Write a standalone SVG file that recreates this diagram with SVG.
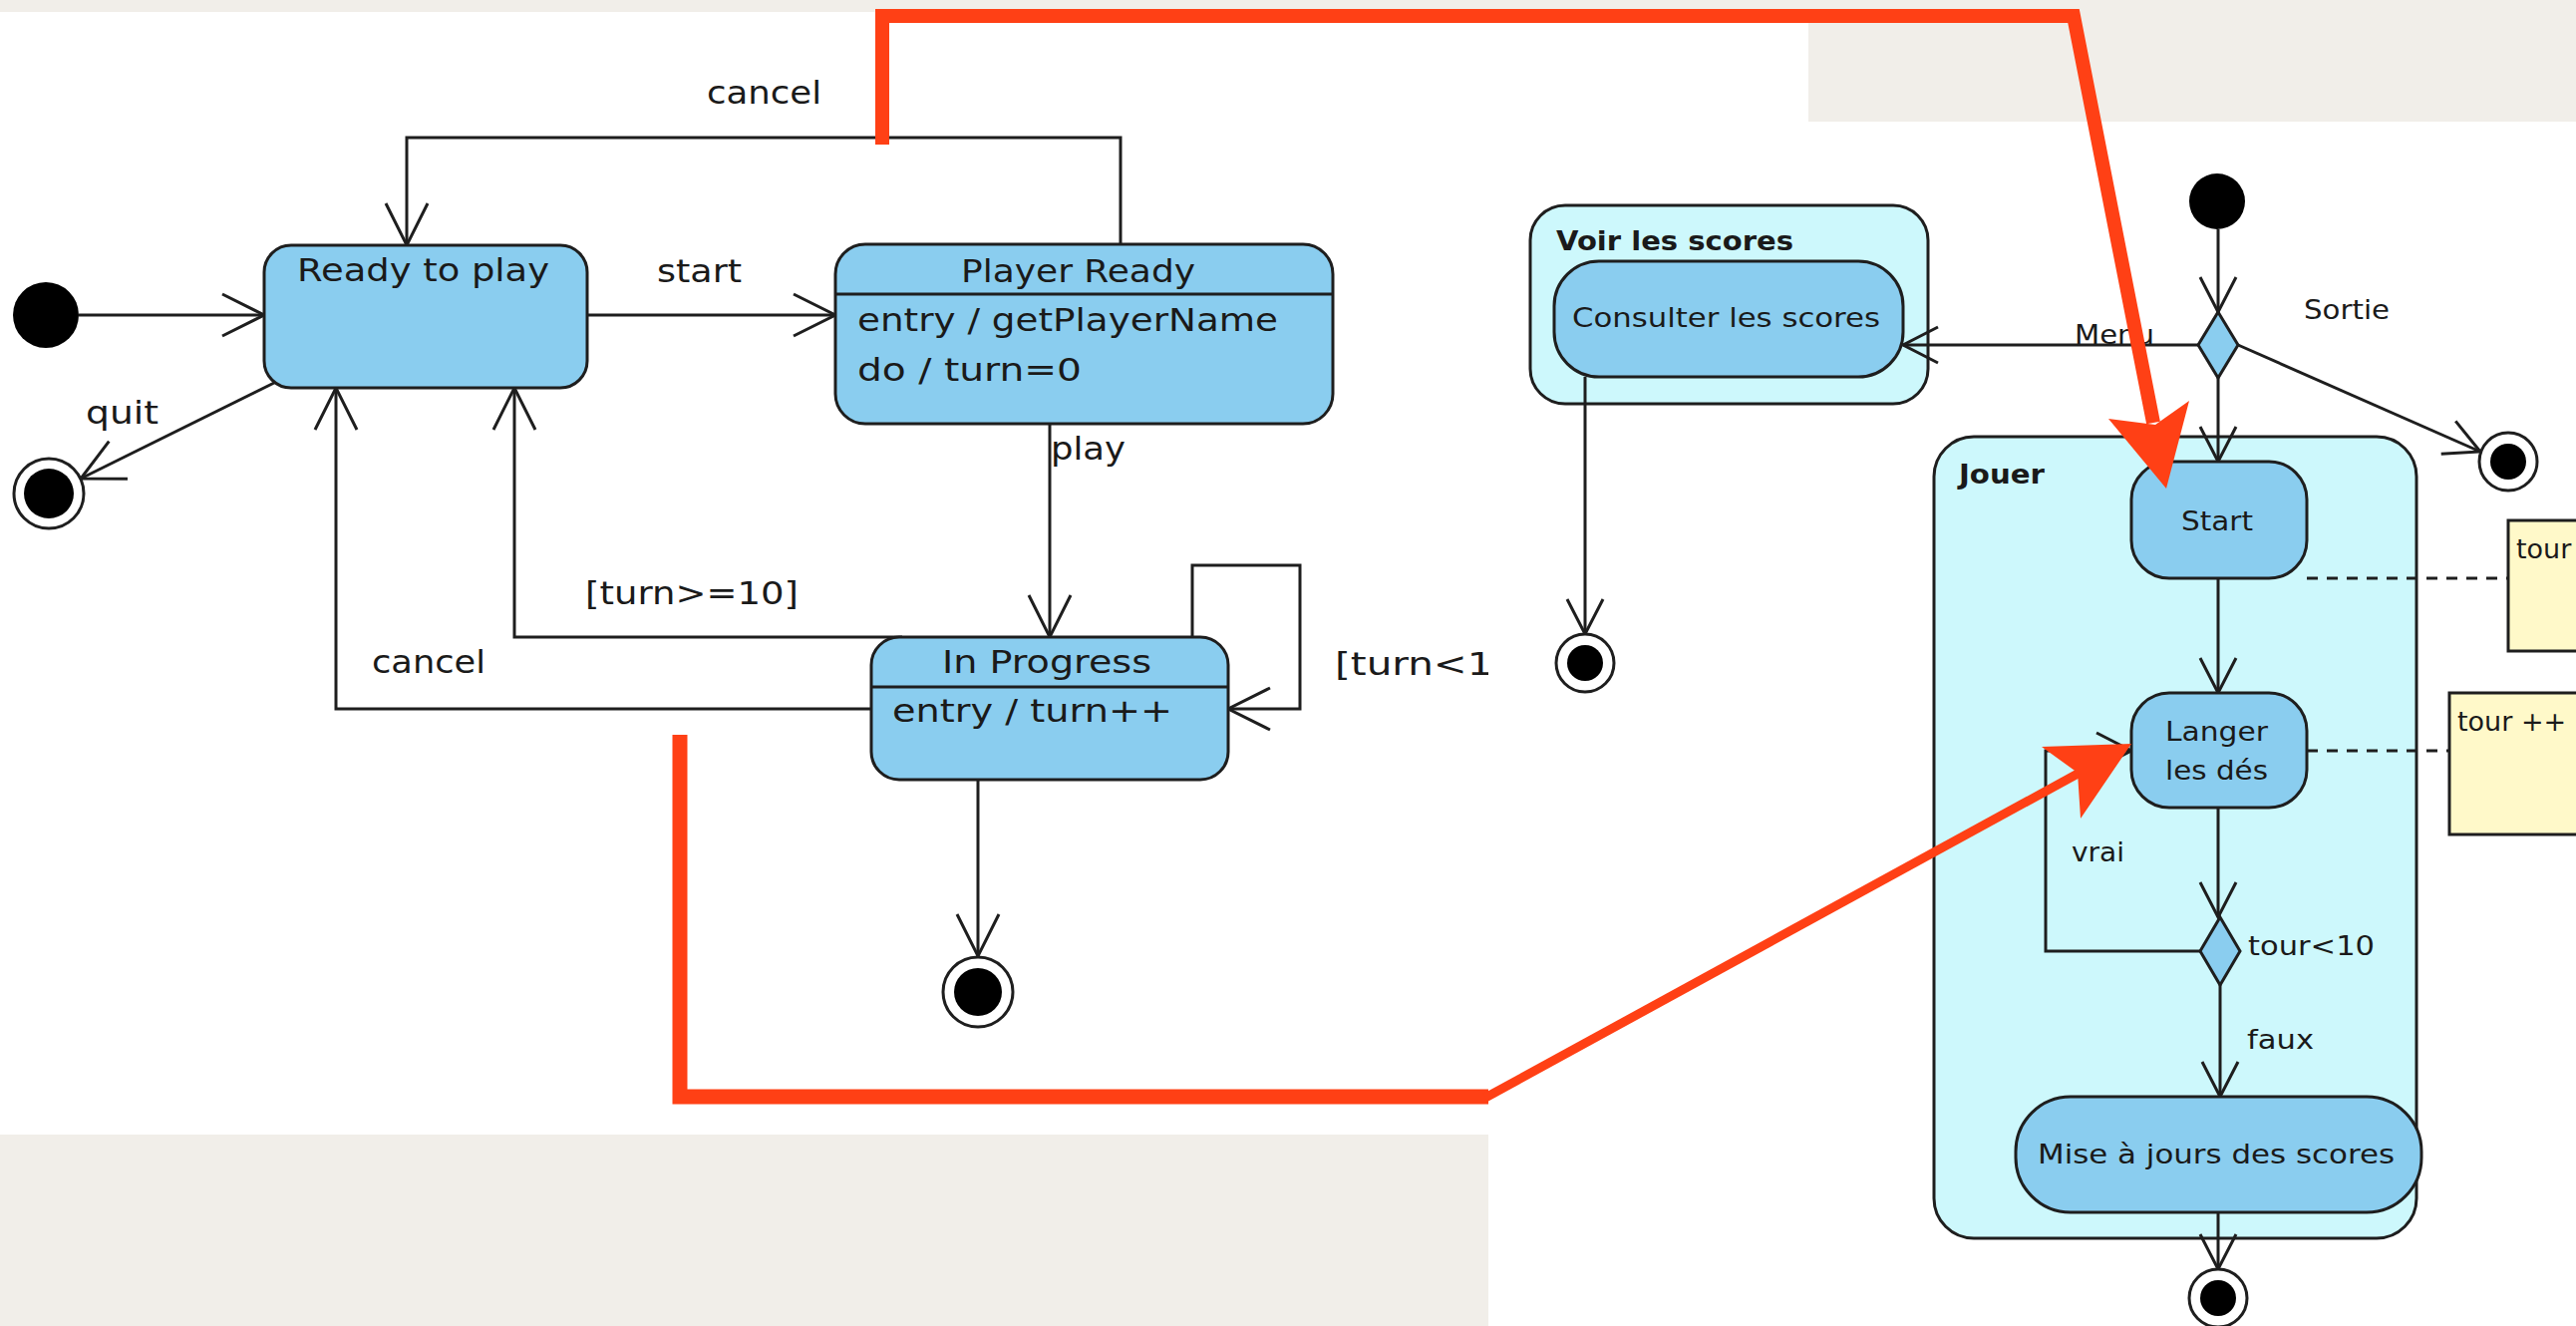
<svg xmlns="http://www.w3.org/2000/svg" width="2584" height="1330" viewBox="0 0 2584 1330">
<style>
.bg{fill:#F1EEE9}
.wh{fill:#FFFFFF}
.node{fill:#8ACDEF;stroke:#1E1E1E;stroke-width:3}
.cont{fill:#CDF8FC;stroke:#1E1E1E;stroke-width:3}
.note{fill:#FFF9C9;stroke:#1E1E1E;stroke-width:3}
.conn{fill:none;stroke:#1E1E1E;stroke-width:3}
.dash{fill:none;stroke:#1E1E1E;stroke-width:3;stroke-dasharray:11 9}
.fin{fill:#FFFFFF;stroke:#1E1E1E;stroke-width:3}
.dot{fill:#000000}
.tl{font-family:"DejaVu Sans","Liberation Sans",sans-serif;font-size:32px;fill:#1A1A1A}
.tr{font-family:"DejaVu Sans","Liberation Sans",sans-serif;font-size:27px;fill:#1A1A1A}
.b{font-weight:bold}
.red{fill:none;stroke:#FF4015;stroke-linejoin:miter}
.redf{fill:#FF4015}
</style>
<defs>
<marker id="aL" markerUnits="userSpaceOnUse" markerWidth="50" markerHeight="50" viewBox="-46 -25 50 50" refX="0" refY="0" orient="auto" overflow="visible">
<path d="M-42,-21 L0,0 L-42,21" fill="none" stroke="#1E1E1E" stroke-width="3"/>
</marker>
<marker id="aR" markerUnits="userSpaceOnUse" markerWidth="44" markerHeight="44" viewBox="-40 -22 44 44" refX="0" refY="0" orient="auto" overflow="visible">
<path d="M-35,-18 L0,0 L-35,18" fill="none" stroke="#1E1E1E" stroke-width="3"/>
</marker>
</defs>

<rect class="bg" x="0" y="0" width="2584" height="1330"/>
<rect class="wh" x="0" y="12" width="1814" height="1126"/>

<!-- LEFT DIAGRAM -->
<g id="left-connectors">
<path class="conn" d="M79,316 L265,316" marker-end="url(#aL)"/>
<path class="conn" d="M589,316 L838,316" marker-end="url(#aL)"/>
<path class="conn" d="M1124,245 V138 H408 V246" marker-end="url(#aL)"/>
<path class="conn" d="M277,383 L81,480" marker-end="url(#aL)"/>
<path class="conn" d="M1053,425 V639" marker-end="url(#aL)"/>
<path class="conn" d="M905,639 H516 V389" marker-end="url(#aL)"/>
<path class="conn" d="M874,711 H337 V389" marker-end="url(#aL)"/>
<path class="conn" d="M1196,639 V567 H1304 V711 H1232" marker-end="url(#aL)"/>
<path class="conn" d="M981,782 V959" marker-end="url(#aL)"/>
</g>
<g id="left-labels">
<text class="tl" x="709" y="104" textLength="115" lengthAdjust="spacingAndGlyphs">cancel</text>
<text class="tl" x="659" y="283" textLength="85" lengthAdjust="spacingAndGlyphs">start</text>
<text class="tl" x="86" y="425" textLength="73" lengthAdjust="spacingAndGlyphs">quit</text>
<text class="tl" x="1054" y="461" textLength="75" lengthAdjust="spacingAndGlyphs">play</text>
<text class="tl" x="587" y="606" textLength="214" lengthAdjust="spacingAndGlyphs">[turn&gt;=10]</text>
<text class="tl" x="373" y="675" textLength="114" lengthAdjust="spacingAndGlyphs">cancel</text>
<text class="tl" x="1339" y="677" textLength="200" lengthAdjust="spacingAndGlyphs">[turn&lt;10]</text>
</g>
<g id="init1"><circle class="dot" cx="46" cy="316" r="33"/></g>
<g id="ready">
<rect class="node" x="265" y="246" width="324" height="143" rx="27"/>
<text class="tl" x="298" y="282" textLength="253" lengthAdjust="spacingAndGlyphs">Ready to play</text>
</g>
<g id="playerReady">
<rect class="node" x="838" y="245" width="499" height="180" rx="30"/>
<line class="conn" x1="838" y1="295" x2="1337" y2="295"/>
<text class="tl" x="964" y="283" textLength="235" lengthAdjust="spacingAndGlyphs">Player Ready</text>
<text class="tl" x="860" y="332" textLength="422" lengthAdjust="spacingAndGlyphs">entry / getPlayerName</text>
<text class="tl" x="860" y="382" textLength="225" lengthAdjust="spacingAndGlyphs">do / turn=0</text>
</g>
<g id="inProgress">
<rect class="node" x="874" y="639" width="358" height="143" rx="28"/>
<line class="conn" x1="874" y1="689" x2="1232" y2="689"/>
<text class="tl" x="945" y="675" textLength="210" lengthAdjust="spacingAndGlyphs">In Progress</text>
<text class="tl" x="895" y="724" textLength="281" lengthAdjust="spacingAndGlyphs">entry / turn++</text>
</g>
<g id="final1"><circle class="fin" cx="49" cy="495" r="35"/><circle class="dot" cx="49" cy="495" r="25"/></g>
<g id="final2"><circle class="fin" cx="981" cy="995" r="35"/><circle class="dot" cx="981" cy="995" r="24"/></g>

<!-- RIGHT DIAGRAM -->
<rect class="wh" x="1493" y="122" width="1091" height="1208"/>
<g id="voir">
<rect class="cont" x="1535" y="206" width="399" height="199" rx="35"/>
<text class="tr b" x="1561" y="251" textLength="238" lengthAdjust="spacingAndGlyphs">Voir les scores</text>
</g>
<g id="jouer">
<rect class="cont" x="1940" y="438" width="484" height="804" rx="40"/>
<text class="tr b" x="1965" y="485" textLength="86" lengthAdjust="spacingAndGlyphs">Jouer</text>
</g>
<g id="right-connectors">
<path class="conn" d="M2225,230 V313" marker-end="url(#aR)"/>
<path class="conn" d="M2205,346 H1909" marker-end="url(#aR)"/>
<path class="conn" d="M2245,346 L2488,453" marker-end="url(#aR)"/>
<path class="conn" d="M2225,379 V463" marker-end="url(#aR)"/>
<path class="conn" d="M1590,378 V636" marker-end="url(#aR)"/>
<path class="conn" d="M2225,580 V695" marker-end="url(#aR)"/>
<path class="conn" d="M2225,810 V920" marker-end="url(#aR)"/>
<path class="conn" d="M2207,954 H2052 V753 H2138" marker-end="url(#aR)"/>
<path class="conn" d="M2227,988 V1100" marker-end="url(#aR)"/>
<path class="conn" d="M2225,1216 V1273" marker-end="url(#aR)"/>
<path class="dash" d="M2314,580 H2516"/>
<path class="dash" d="M2314,753 H2457"/>
</g>
<g id="right-labels">
<text class="tr" x="2311" y="320" textLength="86" lengthAdjust="spacingAndGlyphs">Sortie</text>
<text class="tr" x="2081" y="345" textLength="80" lengthAdjust="spacingAndGlyphs">Menu</text>
<text class="tr" x="2078" y="864" textLength="53" lengthAdjust="spacingAndGlyphs">vrai</text>
<text class="tr" x="2255" y="958" textLength="127" lengthAdjust="spacingAndGlyphs">tour&lt;10</text>
<text class="tr" x="2254" y="1052" textLength="67" lengthAdjust="spacingAndGlyphs">faux</text>
</g>
<g id="init2"><circle class="dot" cx="2224" cy="202" r="28"/></g>
<g id="decision1"><polygon class="node" points="2225,313 2245,346 2225,379 2205,346"/></g>
<g id="consulter">
<rect class="node" x="1559" y="262" width="350" height="116" rx="45"/>
<text class="tr" x="1577" y="328" textLength="309" lengthAdjust="spacingAndGlyphs">Consulter les scores</text>
</g>
<g id="final3"><circle class="fin" cx="1590" cy="665" r="29"/><circle class="dot" cx="1590" cy="665" r="18"/></g>
<g id="final4"><circle class="fin" cx="2516" cy="463" r="29"/><circle class="dot" cx="2516" cy="463" r="18"/></g>
<g id="start">
<rect class="node" x="2138" y="463" width="176" height="117" rx="38"/>
<text class="tr" x="2188" y="532" textLength="72" lengthAdjust="spacingAndGlyphs">Start</text>
</g>
<g id="langer">
<rect class="node" x="2138" y="695" width="176" height="115" rx="38"/>
<text class="tr" x="2172" y="743" textLength="103" lengthAdjust="spacingAndGlyphs">Langer</text>
<text class="tr" x="2172" y="782" textLength="103" lengthAdjust="spacingAndGlyphs">les dés</text>
</g>
<g id="decision2"><polygon class="node" points="2227,920 2247,954 2227,988 2207,954"/></g>
<g id="mise">
<rect class="node" x="2022" y="1100" width="407" height="116" rx="55"/>
<text class="tr" x="2044" y="1167" textLength="358" lengthAdjust="spacingAndGlyphs">Mise à jours des scores</text>
</g>
<g id="final5"><circle class="fin" cx="2225" cy="1302" r="29"/><circle class="dot" cx="2225" cy="1302" r="18"/></g>
<g id="note1">
<rect class="note" x="2516" y="522" width="100" height="131"/>
<text class="tr" x="2524" y="560">tour</text>
</g>
<g id="note2">
<rect class="note" x="2457" y="695" width="160" height="142"/>
<text class="tr" x="2465" y="733">tour ++</text>
</g>

<!-- RED ANNOTATIONS -->
<g id="annotations">
<path class="red" d="M885,145 V16 H2080 L2160,424" stroke-width="14"/>
<polygon class="redf" points="2173,490 2115,420 2162,426 2196,402"/>
<path class="red" d="M682,737 V1100 H1493" stroke-width="15"/>
<path class="red" d="M1490,1101 L2086,775" stroke-width="9"/>
<polygon class="redf" points="2138,746 2048,749 2084,775 2087,821"/>
</g>
</svg>
